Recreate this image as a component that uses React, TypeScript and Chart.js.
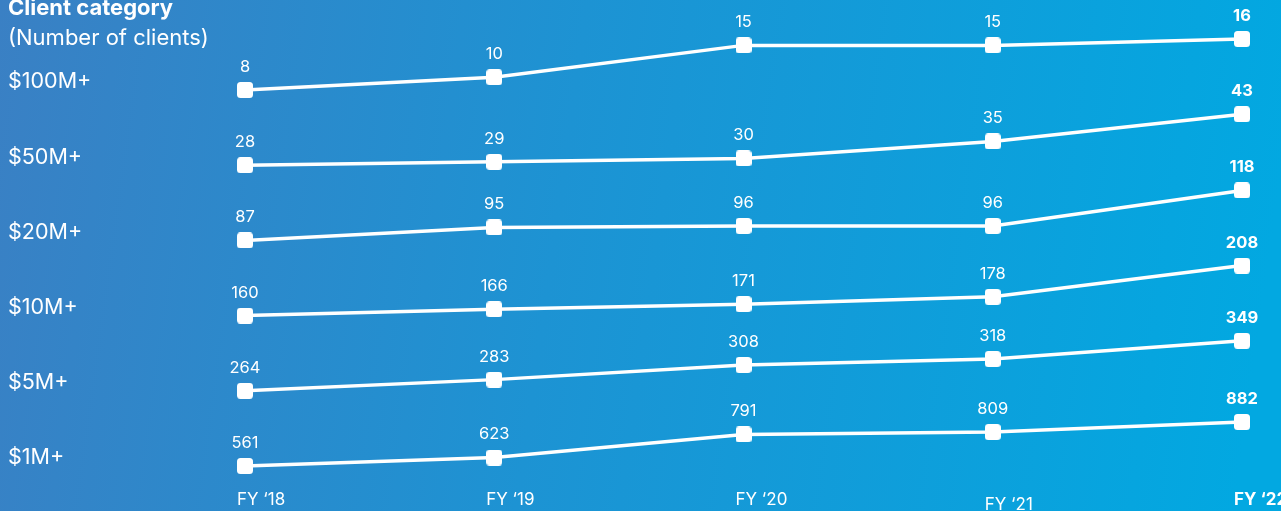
import React, { useEffect, useRef } from "react";
import { Chart, registerables } from "chart.js";

Chart.register(...registerables);

const years = ["FY \u201818", "FY \u201819", "FY \u201820", "FY \u201821", "FY \u201822"];
const categories = ["$100M+", "$50M+", "$20M+", "$10M+", "$5M+", "$1M+"];
const clients100M = [8, 10, 15, 15, 16];
const clients50M = [28, 29, 30, 35, 43];
const clients20M = [87, 95, 96, 96, 118];
const clients10M = [160, 166, 171, 178, 208];
const clients5M = [264, 283, 308, 318, 349];
const clients1M = [561, 623, 791, 809, 882];
const seriesValues = [clients100M, clients50M, clients20M, clients10M, clients5M, clients1M];

const W = 1281;
const H = 511;
// layout: pixel row where each series starts, and vertical spread of each row
const ROW_FIRST = 90;
const ROW_GAP = 75.2;
const ROW_SPREAD = [51, 51, 50, 50, 50, 44];
const FONT = "Inter, 'Open Sans', sans-serif";

function makeMarker(): HTMLCanvasElement {
  const c = document.createElement("canvas");
  c.width = 16;
  c.height = 16;
  const g = c.getContext("2d")!;
  g.fillStyle = "#ffffff";
  g.beginPath();
  (g as any).roundRect(0, 0, 16, 16, 3.5);
  g.fill();
  return c;
}

export default function App() {
  const ref = useRef<HTMLCanvasElement>(null);

  useEffect(() => {
    const canvas = ref.current;
    if (!canvas) return;
    const marker = makeMarker();

    const scales: any = {
      x: { type: "category", labels: years, display: false, offset: false },
    };
    seriesValues.forEach((vals, i) => {
      const first = vals[0];
      const lo = Math.min(...vals);
      const hi = Math.max(...vals);
      const k = ROW_SPREAD[i] / (hi - lo);
      const p0 = ROW_FIRST + ROW_GAP * i;
      scales["y" + i] = {
        type: "linear",
        display: false,
        min: first - (H - p0) / k,
        max: first + p0 / k,
      };
    });

    const bgPlugin = {
      id: "bg",
      beforeDraw(chart: any) {
        const ctx = chart.ctx;
        const grad = ctx.createLinearGradient(0, 0, W, H * 0.35);
        grad.addColorStop(0, "#3a80c4");
        grad.addColorStop(0.45, "#1d93d3");
        grad.addColorStop(1, "#02a8e1");
        ctx.save();
        ctx.fillStyle = grad;
        ctx.fillRect(0, 0, W, H);
        ctx.restore();
      },
    };

    const textPlugin = {
      id: "texts",
      afterDatasetsDraw(chart: any) {
        const ctx = chart.ctx;
        const xs = chart.scales.x;
        ctx.save();
        ctx.fillStyle = "#ffffff";
        // titles
        ctx.textAlign = "left";
        ctx.textBaseline = "middle";
        ctx.font = `bold 22px ${FONT}`;
        ctx.fillText("Client category", 8, 8);
        ctx.font = `22px ${FONT}`;
        ctx.fillText("(Number of clients)", 8, 38);
        // rows
        chart.data.datasets.forEach((ds: any, i: number) => {
          const meta = chart.getDatasetMeta(i);
          ctx.textAlign = "left";
          ctx.font = `21.5px ${FONT}`;
          ctx.fillText(categories[i], 8, meta.data[0].y - 8);
          ctx.textAlign = "center";
          meta.data.forEach((pt: any, j: number) => {
            const last = j === meta.data.length - 1;
            ctx.font = `${last ? "bold " : ""}16.5px ${FONT}`;
            ctx.fillText(String(ds.data[j]), pt.x, pt.y - 23);
          });
        });
        // x labels
        ctx.textAlign = "left";
        years.forEach((y, j) => {
          const last = j === years.length - 1;
          ctx.font = `${last ? "bold " : ""}17px ${FONT}`;
          const x = xs.getPixelForValue(j) - 8;
          ctx.fillText(y, x, j === 3 ? 505 : 500);
        });
        ctx.restore();
      },
    };

    const chart = new Chart(canvas, {
      type: "line",
      data: {
        labels: years,
        datasets: seriesValues.map((vals, i) => ({
          label: categories[i],
          data: vals,
          yAxisID: "y" + i,
          borderColor: "#ffffff",
          borderWidth: 3.5,
          tension: 0,
          pointStyle: marker as any,
          pointRadius: 8,
          pointBackgroundColor: "#ffffff",
          clip: false as any,
        })),
      },
      options: {
        animation: false,
        responsive: false,
        layout: { autoPadding: false, padding: { left: 245, right: W - 1242, top: 0, bottom: 0 } },
        plugins: { legend: { display: false }, tooltip: { enabled: false } },
        scales,
      },
      plugins: [bgPlugin, textPlugin],
    });
    return () => chart.destroy();
  }, []);

  return (
    <div style={{ position: "absolute", left: 0, top: 0, width: W, height: H }}>
      <canvas ref={ref} width={W} height={H} style={{ display: "block" }} />
    </div>
  );
}
